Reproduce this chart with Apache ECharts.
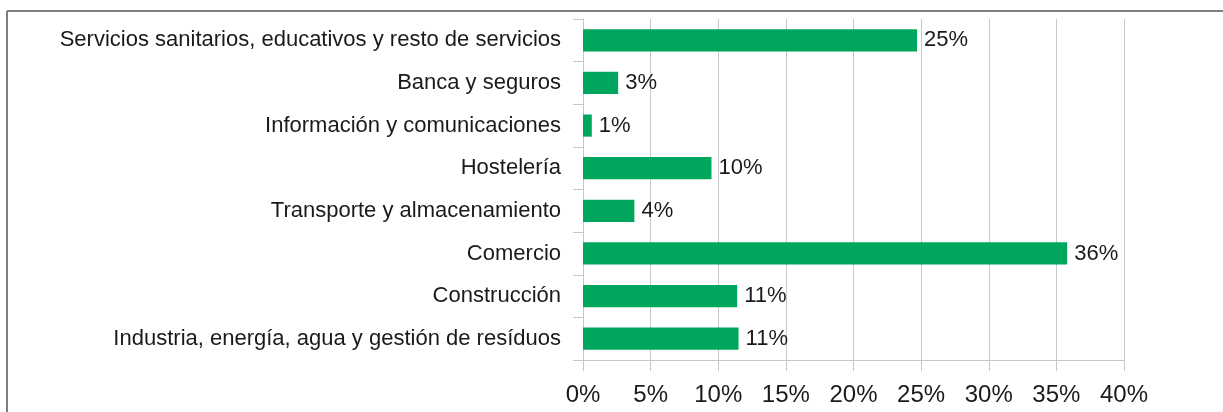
<!DOCTYPE html>
<html>
<head>
<meta charset="utf-8">
<script src="https://cdn.jsdelivr.net/npm/echarts@6/dist/echarts.min.js"></script>
<style>
  html, body { margin: 0; padding: 0; background: #fff; }
  #chart { width: 1223px; height: 412px; }
</style>
</head>
<body>
<div id="chart"></div>
<script>
const categories = [
  'Servicios sanitarios, educativos y resto de servicios',
  'Banca y seguros',
  'Información y comunicaciones',
  'Hostelería',
  'Transporte y almacenamiento',
  'Comercio',
  'Construcción',
  'Industria, energía, agua y gestión de resíduos'
]
const shares = [24.7, 2.6, 0.65, 9.5, 3.8, 35.8, 11.4, 11.5]
const shareLabels = ['25%', '3%', '1%', '10%', '4%', '36%', '11%', '11%']

const chart = echarts.init(document.getElementById('chart'))
const gridColor = '#c8c8c8'
const textColor = '#1a1a1a'

chart.setOption({
  animation: false,
  textStyle: { fontFamily: 'Liberation Sans' },
  grid: { left: 583, right: 99, top: 19, bottom: 52, containLabel: false },
  graphic: [
    { type: 'line', shape: { x1: 7, y1: 11, x2: 1223, y2: 11 }, style: { stroke: '#7f7f7f', lineWidth: 2 } },
    { type: 'line', shape: { x1: 7, y1: 11, x2: 7, y2: 412 }, style: { stroke: '#7f7f7f', lineWidth: 2 } }
  ],
  xAxis: {
    type: 'value',
    min: 0,
    max: 40,
    interval: 5,
    axisLine: { show: true, lineStyle: { color: gridColor } },
    axisTick: { show: true, length: 11, lineStyle: { color: gridColor } },
    splitLine: { show: true, lineStyle: { color: gridColor } },
    axisLabel: { formatter: '{value}%', fontSize: 24, color: textColor, margin: 23 }
  },
  yAxis: {
    type: 'category',
    inverse: true,
    data: categories,
    axisLine: { show: true, lineStyle: { color: gridColor } },
    axisTick: { show: true, length: 10, lineStyle: { color: gridColor } },
    axisLabel: { fontSize: 22, color: textColor, margin: 22, padding: [8, 0, 0, 0] }
  },
  series: [{
    type: 'bar',
    data: shares,
    barWidth: '52%',
    itemStyle: { color: '#00a65d' },
    label: {
      show: true,
      position: 'right',
      distance: 7,
      fontSize: 22,
      color: textColor,
      padding: [8, 0, 0, 0],
      formatter: p => shareLabels[p.dataIndex]
    }
  }]
})
</script>
</body>
</html>
